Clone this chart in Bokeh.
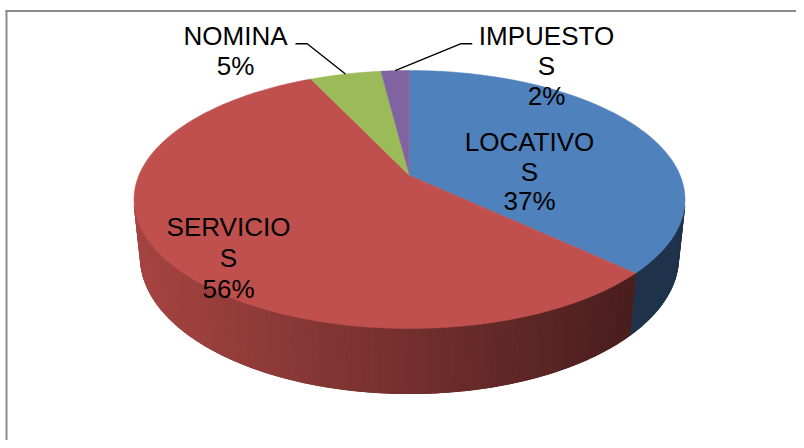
import numpy as np
from bokeh.plotting import figure
from bokeh.models import Range1d
from bokeh.core.properties import value
from bokeh.embed import file_html
from bokeh.resources import INLINE

# ---------------- data ----------------
categories = ["LOCATIVOS", "SERVICIOS", "NOMINA", "IMPUESTOS"]
values = [37, 56, 5, 2]
top_colors = ["#4F81BD", "#C0504D", "#9BBB59", "#8064A2"]

# ---------------- layout (page pixels) ----------------
W, H_PX = 796, 440
APEX = (409.0, 175.0)        # projected pie centre
TOP_Y, FRONT_Y, HALF_W, BOTTOM_Y = 70.0, 328.0, 275.5, 393.0

# solve a simple perspective camera from the measured extents
up_ = APEX[1] - TOP_Y
down_ = FRONT_Y - APEX[1]
r = down_ / up_
k = (r - 1) / (r + 1)                     # c / L
FL = HALF_W * np.sqrt(1 - k * k)          # F / L
s = up_ * (1 + k) / FL
c = np.sqrt(1 - s * s)
L = c / k
F = FL * L
dz = BOTTOM_Y - APEX[1]
Hd = (dz * (L - c) - F * s) / (F * c - dz * s)   # pie thickness (radius = 1)


def proj(th, z=0.0):
    X, Y = np.sin(th), np.cos(th)
    depth = L + Y * c - z * s
    return APEX[0] + F * X / depth, APEX[1] - F * (Y * s + z * c) / depth


def hex_rgb(h):
    h = h.lstrip("#")
    return [int(h[i:i + 2], 16) for i in (0, 2, 4)]


def shade(hexcol, f):
    r_, g_, b_ = hex_rgb(hexcol)
    return "#%02x%02x%02x" % (int(r_ * f), int(g_ * f), int(b_ * f))


p = figure(width=W, height=H_PX, output_backend="svg", toolbar_location=None,
           x_range=Range1d(0, W), y_range=Range1d(H_PX, 0),
           min_border=0, outline_line_color=None)
p.xaxis.visible = False
p.yaxis.visible = False
p.grid.visible = False
p.background_fill_color = "white"
p.border_fill_color = "white"

# chart frame (left and top edges visible)
p.line([6, 6], [10, H_PX + 2], line_color="#8c8c8c", line_width=2)
p.line([5, W + 2], [10.5, 10.5], line_color="#8c8c8c", line_width=2)

total = float(sum(values))
bounds = np.concatenate([[0.0], np.cumsum(values) / total * 2 * np.pi])
vis_lo = np.arccos(-1.0 / (L * c))
vis_hi = 2 * np.pi - vis_lo

# ---- side walls (front-facing only), base polygon + thin shaded strips
base_x, base_y, base_c = [], [], []
xs_s, ys_s, cols_s = [], [], []
x_left = proj(3 * np.pi / 2)[0]
x_right = proj(vis_lo + 0.55)[0]
for i in range(len(values)):
    a0, a1 = max(bounds[i], vis_lo), min(bounds[i + 1], vis_hi)
    if a1 <= a0:
        continue
    n = max(2, int(np.degrees(a1 - a0)))
    ths = np.linspace(a0, a1, n + 1)
    tx_, ty_ = proj(ths)
    bx_, by_ = proj(ths, -Hd)
    cols_here = []
    for j in range(n):
        xm = (tx_[j] + tx_[j + 1]) / 2
        t = np.clip((xm - x_left) / (x_right - x_left), 0, 1)
        f = 0.40 if i == 0 else 0.86 - 0.47 * t
        col = shade(top_colors[i], f)
        cols_here.append(col)
        xs_s.append([tx_[j], tx_[j + 1], bx_[j + 1], bx_[j]])
        ys_s.append([ty_[j], ty_[j + 1], by_[j + 1], by_[j]])
        cols_s.append(col)
    base_x.append(list(tx_) + list(bx_[::-1]))
    base_y.append(list(ty_) + list(by_[::-1]))
    base_c.append(cols_here[len(cols_here) // 2])
p.patches(base_x, base_y, fill_color=base_c, line_color=base_c, line_width=1)
p.patches(xs_s, ys_s, fill_color=cols_s, line_color=cols_s, line_width=1.2)

# ---- top faces
xs_t, ys_t = [], []
for i in range(len(values)):
    ths = np.linspace(bounds[i], bounds[i + 1], max(3, int(np.degrees(bounds[i + 1] - bounds[i]) * 2)))
    px, py = proj(ths)
    xs_t.append([APEX[0]] + list(px))
    ys_t.append([APEX[1]] + list(py))
p.patches(xs_t, ys_t, fill_color=top_colors, line_color=top_colors, line_width=0.5)

# ---- labels
TEXT_DY = -10.0
pct = [f"{round(v / total * 100):.0f}%" for v in values]
label_pos = {  # centre x, first baseline y, line step, wrap position
    "LOCATIVOS": (529, 151.5, 29.5, 8),
    "SERVICIOS": (228, 236.5, 31.0, 8),
    "NOMINA": (235, 45.0, 30.0, None),
    "IMPUESTOS": (546, 45.0, 30.0, 8),
}
tx, ty, tt = [], [], []
for i, name in enumerate(categories):
    x0, y0, step, wrap = label_pos[name]
    lines = [name] if wrap is None else [name[:wrap], name[wrap:]]
    lines.append(pct[i])
    for j, ln in enumerate(lines):
        tx.append(x0)
        ty.append(y0 + j * step + TEXT_DY)
        tt.append(ln)
p.text(tx, ty, text=tt, text_font=value("Liberation Sans"), text_font_size="26px",
       text_align="center", text_baseline="alphabetic", text_color="black")

# ---- leader lines for the outside labels
leaders = {"NOMINA": [(295, 43.3), (306.7, 43.3)], "IMPUESTOS": [(471.7, 43.3), (460, 43.3)]}
for i, name in enumerate(categories):
    if name in leaders:
        mid = (bounds[i] + bounds[i + 1]) / 2
        ex, ey = proj(mid)
        pts = leaders[name] + [(ex, ey)]
        p.line([q[0] for q in pts], [q[1] for q in pts], line_color="black", line_width=1.4)

open("out.html", "w").write(file_html(p, INLINE))
